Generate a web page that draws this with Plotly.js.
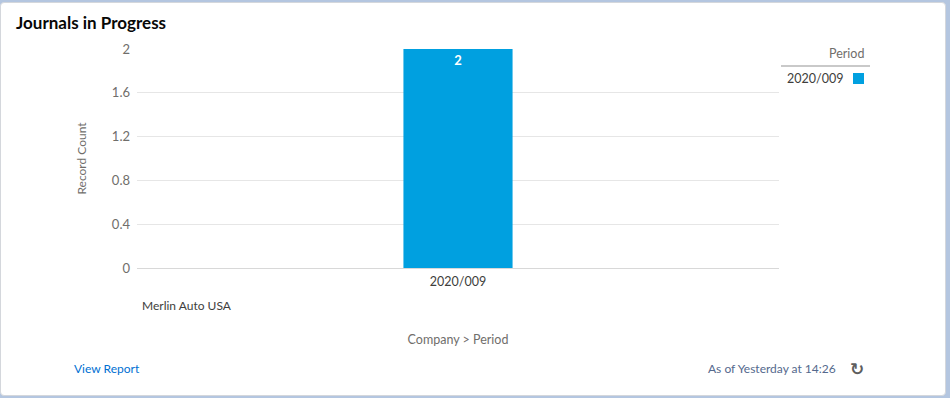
<!DOCTYPE html>
<html>
<head>
<meta charset="utf-8">
<script src="https://cdn.plot.ly/plotly-3.0.1.min.js"></script>
<style>
  html, body { margin: 0; padding: 0; width: 950px; height: 398px; overflow: hidden; background: #b4c6e0; }
  #card { position: absolute; left: 0; top: 2px; width: 944px; height: 392px; background: #fff; border: 1px solid #d4d7dc; border-radius: 4px; }
  #chart { position: absolute; left: 0; top: 0; width: 950px; height: 398px; }
</style>
</head>
<body>
<div id="card"></div>
<div id="chart"></div>
<script>
const chartTitle = "Journals in Progress";
const companies = ["Merlin Auto USA"];
const periods = ["2020/009"];
const recordCounts = [2];
const yTicks = [0, 0.4, 0.8, 1.2, 1.6, 2];
const yTickLabels = ["0", "0.4", "0.8", "1.2", "1.6", "2"];
const legendTitle = "Period";
const xTitle = "Company > Period";
const yTitle = "Record Count";
const footerLeft = "View Report";
const footerRight = "As of Yesterday at 14:26";

const W = 950, H = 398;
const M = { l: 137, r: 171, t: 49, b: 130 };
const pw = W - M.l - M.r, ph = H - M.t - M.b;
const px = x => (x - M.l) / pw;
const py = y => (H - M.b - y) / ph;

const FONT = "Lato, 'Open Sans', sans-serif";
const BLUE = "#00a0e0";

const trace = {
  type: "bar",
  x: periods,
  y: recordCounts,
  name: periods[0],
  marker: { color: BLUE },
  text: recordCounts.map(String),
  textposition: "inside",
  insidetextanchor: "end",
  textfont: { color: "#ffffff", size: 13, family: FONT, weight: "bold" },
  hoverinfo: "x+y"
};

const annotations = [
  { text: "<b>" + chartTitle + "</b>", x: px(14), y: py(23), xanchor: "left", yanchor: "middle",
    font: { size: 17, color: "#080707", family: FONT } },
  { text: legendTitle, x: px(866), y: py(53), xanchor: "right", yanchor: "middle",
    font: { size: 12.5, color: "#706e6b", family: FONT } },
  { text: periods[0], x: px(845), y: py(78), xanchor: "right", yanchor: "middle",
    font: { size: 12.5, color: "#3e3e3c", family: FONT } },
  { text: companies[0], x: px(140), y: py(305), xanchor: "left", yanchor: "middle",
    font: { size: 12, color: "#3e3e3c", family: FONT } },
  { text: footerLeft, x: px(72), y: py(368), xanchor: "left", yanchor: "middle",
    font: { size: 12, color: "#0070d2", family: FONT } },
  { text: footerRight, x: px(838), y: py(368), xanchor: "right", yanchor: "middle",
    font: { size: 12, color: "#54698d", family: FONT } },
  { text: "<b>↻</b>", x: px(857), y: py(369), xanchor: "center", yanchor: "middle",
    font: { size: 17, color: "#5e5e5e", family: "DejaVu Sans" } }
].map(a => Object.assign({ xref: "paper", yref: "paper", showarrow: false }, a));

const shapes = [
  { type: "line", xref: "paper", yref: "paper", x0: px(781), x1: px(870), y0: py(66), y1: py(66),
    line: { color: "#c9c9c9", width: 2 } },
  { type: "rect", xref: "paper", yref: "paper", x0: px(853), x1: px(864), y0: py(84), y1: py(73),
    fillcolor: BLUE, line: { width: 0 } }
];

const layout = {
  width: W, height: H,
  margin: M,
  paper_bgcolor: "rgba(0,0,0,0)",
  plot_bgcolor: "rgba(0,0,0,0)",
  showlegend: false,
  bargap: 0.83,
  font: { family: FONT, size: 12, color: "#706e6b" },
  xaxis: {
    type: "category",
    showgrid: false, showline: false, zeroline: false, ticks: "",
    tickfont: { size: 12.5, color: "#3e3e3c", family: FONT },
    ticklabelstandoff: 4,
    title: { text: xTitle, font: { size: 12.5, color: "#706e6b", family: FONT }, standoff: 47 },
    automargin: false
  },
  yaxis: {
    range: [0, 2],
    tickvals: yTicks, ticktext: yTickLabels,
    showgrid: true, gridcolor: "#e6e6e6", gridwidth: 1,
    zeroline: true, zerolinecolor: "#d8d8d8", zerolinewidth: 1,
    showline: false, ticks: "",
    ticklabelstandoff: 6,
    tickfont: { size: 13, color: "#706e6b", family: FONT },
    title: { text: yTitle, font: { size: 12, color: "#706e6b", family: FONT }, standoff: 22 },
    automargin: false
  },
  annotations, shapes
};

Plotly.newPlot("chart", [trace], layout, { displayModeBar: false, staticPlot: true });
</script>
</body>
</html>
